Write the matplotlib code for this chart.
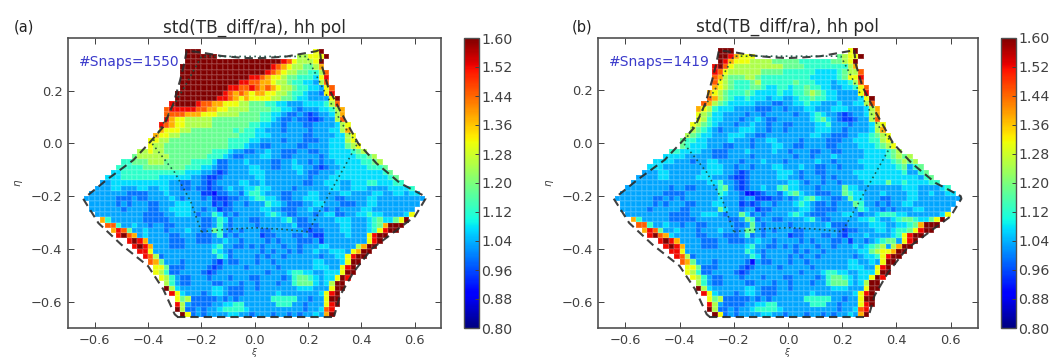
import numpy as np
import matplotlib
matplotlib.use("Agg")
import matplotlib.pyplot as plt

TITLE = "std(TB_diff/ra), hh pol"
PANEL_LABELS = ["(a)", "(b)"]
SNAPS = ["#Snaps=1550", "#Snaps=1419"]
XTICKS = [-0.6, -0.4, -0.2, 0.0, 0.2, 0.4, 0.6]
YTICKS = [-0.6, -0.4, -0.2, 0.0, 0.2]
CBAR_TICKS = [0.80, 0.88, 0.96, 1.04, 1.12, 1.20, 1.28, 1.36, 1.44, 1.52, 1.60]

# colour levels: each letter in a row is one cell
LEVEL_CODES = "abcdefghijklm"
LEVEL_VALUES = [0.91, 0.95, 0.99, 1.03, 1.075, 1.125, 1.18, 1.25, 1.31, 1.38, 1.45, 1.52, 1.60]
COMMON_LEVEL = "d"

ROW_START = [19, 19, 19, 18, 18, 18, 18, 18, 17, 17, 16, 15, 15, 15, 14, 14, 13, 12, 12, 10, 9, 7, 6, 5, 4, 3, 2, 1, 0,
             1, 1, 2, 3, 4, 5, 6, 8, 9, 10, 11, 12, 13, 13, 14, 15, 15, 16, 17, 17, 17, 18]
ROW_STOP = [45, 46, 45, 45, 46, 46, 46, 47, 47, 48, 48, 49, 49, 49, 50, 50, 51, 51, 52, 53, 55, 56, 57, 58, 59, 60, 62, 63, 64,
            63, 62, 62, 61, 60, 59, 57, 56, 55, 54, 53, 52, 51, 51, 50, 49, 49, 48, 48, 48, 47, 47]

EDGE_RIGHT = ["im", "im", "im", "hj", "hk", "il", "hk", "ik", "il", "im", "hk", "hj", "hj", "hk", "hi", "hj", "hi",
              "hi", "ghi", "gh", "gh", "gh", "fg", "fg", "fg", "ff", "ef", "ee", "dd", "", "", "ei", "gim", "jmmm",
              "ilmm", "ilmm", "ilm", "hjmm", "ijmm", "ilmm", "imm", "ilm", "imm", "iml", "hmm", "imm", "ilm", "imm",
              "ilm", "kl", "jm"]
EDGE_LEFT = [""] * 32 + ["jf", "kkf", "jlkg", "lmkj", "lmlj", "lmlj", "lli", "lkh", "kjg", "iig", "ihf", "ihf", "hf",
                         "mhe", "lie", "igh", "lh", "mh", "mi"]

# first ten rows start at the left end of the row
A_TOP = [
    "mmm.....................",
    "mmmmmm...............hhiiim",
    "mmmmmmmmmmmmmmmmmmlkihhhim",
    "mmmmmmmmmmmmmmmmmlkjihhggghh",
    "mmmmmmmmmmmmmmmmlkjihhggffffgh",
    "mmmmmmmmmmmmmllkjiihggfffeefg",
    "mmmmmmmmmmmllkkjjihhgffeeddeefg",
    "mmmmmmmmmllkklkjkjihhgffeedddeefg",
    "mmmmmmmmmlkjkjijjiihhgffeddcddef",
    "mmmmmmmmllkjijiiiihhggfeeddddeef",
]
B_TOP = [
    "mmm.....................",
    "mmljiii...............ghiiim",
    "mljiiihhhhgggggffffffgghim",
    "lmkihhhhhhhhhggggffffffffgghj",
    "lkihhhhhhggggffffffeeeefghk",
    "kjhggghhgfffffffffeeeeefgil",
    "kihgfffghffffffgfffeeedeefgik",
    "jihgfffggfeeffeffgffeeddeeffik",
    "jihgfffgfeeeefeeffghgfeeddddeffil",
    "kjhgfeefeeedeeddeffgffeeddddeefim",
]

# remaining rows are indexed by grid column; blocks of ten columns, '.' = common level
A_MID = [
    ".......... ......lmmm mlkkjjiiih hgggffeedd deeeefgg",
    ".......... .....kllll lkkjjiihhh hggggffeed cdddeefgg",
    ".......... .....kkkkj jjiiihhhhg gggffeedcc dcbcddeefg",
    ".......... .....ljiih hhhhgggggg gggffedccd ccbbcddeff",
    ".......... ....lkjiih hhhhgggggg gffeeddcdd dccddddeef",
    ".......... ....jiiihh ggggggggfg ffeedddcdd ddcdddeefg",
    ".......... ...jiihhgg gggggggggf ffeeeddddd dccddddeef g",
    ".......... ..iihhgggg gggggggfff feeddddcdd dcccddeeef g",
    ".......... ..ihhggggg gggggggfff eddccddddd ccddddeeef gg",
    ".......... hhihhggggg ggggfffedd ccddeddccc ddccddeeee fgh",
    ".........g hhhhhhgggg gggfffedcc dddeeddccd ddddcdeeee effgh",
    ".......ffg gghhhggggg ffffeccddd eddddccdde ddcdcddeee eeffgh",
    "......ffff fggggggggf ffeedccddd deeddccdde eddcbcddee eeefffg",
    ".....eefff fffffffffe eeddcbcddd deeedddddd edccdddeee eeeeeeff",
    "....eeefff ffffeeeeee ddcbbcdddd ddeedddddd ddcdddeeee eeeeeeeee",
    "...ddeeeee eeeeeeddcc ddcbcdddde eddedddddd dccddeeedd eeeffeeee",
    "..dddeeddd eeddeeddcc dccbccdedd eefeeddddc ddddddeedd eeeddddeee",
    ".dddddddcc ccdddedddd ddbbaccddc effedddccd ddeeddddee ddddeeddee",
    "ddddddcccd ccddddedcd ddcdbbbccd deffeedccd deeedddccd dddeeddddd d",
    ".dddddcdcd ddccdddeee ddddbcbcdd cdddfeedcc cddeedddcc cddeeddddd",
    ".ddddddcdd ddccddeeee ddcddbccdd dddeeddccc ddeddcdcdd ddeedddddd",
    "..dddddddd dccccddeee dcddfecdcd ddddefedcc dddcdeeccd deefeedddd",
    "...ddddddd dcccccdddd ddccdfecdd dccddddefd ccdddddeee dddefgeedd",
    "....ddddde ddcddccddd ddccdfdcdd ddcdddddde ccccddddee dddefgeee",
    ".....ddddd dedddcddde ddcdgfdcdc dddccddddd dcbccdddee dddeffe",
    "......dddd deddddccdd dcccdfcdcd dddbccdddc cdcbbdddde d",
    "........dd ddddddcccd dcccddeddc ddddcdcddd cccdbddddd",
    ".........d ddcdddcccd ddddefddcc dcdcdddcdd cdddeeddd",
    ".......... dddddddddd ddddfedcdd dddcdcddcd cddeddeee",
    ".......... ddddcddddd dddddfecdd ddcdcddcdd ddddcddeed",
    ".......... ..eeddddcd ddddcbdccd ddcddcdddd dddeeddde",
]
B_MID = [
    ".......... ......kjhg feeeeedddc cddeefeedd deddeefg",
    ".......... .....jihfe eeddddcccd dcdddeeddd eeedddeffg",
    ".......... .....ihgee ddddcddcdd dddcddefed dcbcddeefg",
    ".......... .....ihfee dddcddedcc ddddddefge dcbbcddeef",
    ".......... ....ihgfed ddcddeddcd dccddddeef dddcdddeef",
    ".......... ....hgfedc dddeeeddcd dcdddddeee ddcddddeef",
    ".......... ...hgfeedd deeeddccdd ddddddeedd cccddeefgh",
    ".......... ..gffeeddd dedddcddee ddddcddddc ccddeeeffh",
    ".......... ..gfeeeddd ccdddcddde eddccddddc cddddeeeff",
    ".......... ffeeeeddcc cdddedddde ddcdddccdd ccddddeeee f",
    ".........e eeedddddcc cddddcdddd dddcddcddd edddddeeee fgh",
    ".......eee edddcddeed dddcdddedd dcdddddedd cddddeeeee efgh",
    "......eeed dddddddeee ddcddcddde edddeddccd dcddddeeee eefg",
    ".....dddee ddddddeeee ddcbcddddd eeedcddccd ddddeeeeee eeef",
    "....ddddee dddddeeedd dcbbcddddd eeddcdddcd cddddeeeee eeeeee",
    "...ddddddd dddddddeef ddcbcddddd ddeedcddcd dcddddeeee geefeeee",
    "..dddddddd cddccddddf gdcbcddedd fgeedddcdd ddgeeddddd dddeee",
    ".ddddddddc cccddddddf eddcaabcdd cefgeddccc ddgfeeddde ddddeedde",
    "dddddddccd cdcdddddde dddcddbbbc cdcdefgedd ccdgeedddc cdddeedddd",
    ".ddddddcdc dddccdddee dddbcbcddc dddefedccd cdddgfddcd cddeeddddd",
    ".dddddcddd ddccdddddg eddcddbccd ddddeedccc cddddfeddc dcdddeeddd",
    "..dddddddd ccccddeeed cddgecdcdd ddefedcccd ddeedcddef ffeedddd",
    "...ddddddd cccccddddd dccdgfcddc cddddefdcc dddddeefed defggfeedd",
    "....ddddde ddcddccddd ddccdgdcdd ddcdddddde cccddddeee ddeefggfee",
    ".....ddddd dedddcddde ddcdggdcdc dddccddddd dcbccdddee deffgge",
    ".....ddddd eddddccddd cccdfcdcdd ddbccdddcc dcbdddeddd defgg",
    "........dd ddddddcccd dcccddeddc ddddcdcddd ccdbddcdef gg",
    ".........d ddcdddcccd ddddefddcc dcdcdddcdd cdddedefgh",
    ".......... dddddddddd ddddfedcdd dddcdcddcd dddddeeghi",
    ".......... ddddcddddd dddddfecdd ddcdcddcdd ddddcdeefh",
    ".......... ..eeddddcd ddddcadccd ddcddcdddd dddeedde",
]
LOWER_ROWS = [
    ".......... ...eddcccd dddcbcdddd cdddddcddd dddeeeddd",
    ".......... ...eddccdd ddcbcddddd ddddcdddef feeddeee",
    ".......... ....edddcc dddcdddcdd dccddddcdf ggfedee",
    ".......... .....eddcc ddddccdddc ddcdddcddf gggede",
    ".......... .....edddd ddddeedccc ddcddddddd eeedd",
    ".......... ......eddd ddcdeedccc ddddddeddd dddde",
    ".......... .......hed cccccdcdcd dddddfffff ddcdd",
    ".......... .......eed ccccddeeff ddddddfffd dcddd",
    ".......... .......edc cdcddeffff eddddddddd dcdde",
    ".......... ........ed cdcddddeed dcdddcddcd cdde",
]

# outer dashed outline and inner dotted outline
OUTER_XI = [-0.624, -0.555, -0.455, -0.397, -0.343, -0.305, -0.28, -0.265, -0.255, -0.20, -0.125, -0.05, 0.0, 0.05, 0.12, 0.231, 0.244,
            0.25, 0.275, 0.319, 0.388, 0.456, 0.544, 0.637, 0.64, 0.60, 0.53, 0.438, 0.369, 0.319, 0.298]
OUTER_ETA = [-0.195, -0.138, -0.063, 0.0, 0.063, 0.151, 0.239, 0.30, 0.352, 0.345, 0.332, 0.325, 0.323, 0.325, 0.33, 0.35, 0.356,
             0.30, 0.214, 0.126, 0.0, -0.075, -0.15, -0.20, -0.21, -0.277, -0.33, -0.40, -0.49, -0.578, -0.654]
LOWER_LEFT_XI = [-0.643, -0.586, -0.50, -0.40, -0.343, -0.30, -0.29]
LOWER_LEFT_ETA = [-0.21, -0.302, -0.384, -0.465, -0.553, -0.648, -0.657]
BOTTOM_XI = [-0.29, 0.29]
BOTTOM_ETA = [-0.657, -0.657]
INNER_XI = [-0.20, -0.24, -0.30, -0.385, -0.33, -0.26, -0.20, -0.10, 0.0, 0.10, 0.195, 0.26, 0.33, 0.385, 0.33, 0.28, 0.20, 0.10, 0.0, -0.10, -0.20]
INNER_ETA = [-0.335, -0.22, -0.11, 0.0, 0.10, 0.22, 0.33, 0.33, 0.33, 0.33, 0.33, 0.20, 0.07, 0.0, -0.10, -0.19, -0.335, -0.325, -0.32, -0.325, -0.335]

AX_POS = [(68, 441.5, 38, 328), (598.3, 977.7, 37.7, 328)]
CB_POS = [(464, 478.7, 38, 328), (1001, 1015.7, 37.7, 328)]
LABEL_X = [14, 572]
W, H = 1050, 359
GREY = "#404040"

plt.rcParams["font.family"] = "DejaVu Sans"
plt.rcParams["mathtext.fontset"] = "dejavusans"
lookup = dict(zip(LEVEL_CODES, LEVEL_VALUES))


def build(top, mid):
    rows = top + mid + LOWER_ROWS
    grid = np.full((len(rows), 64), np.nan)
    for j, row in enumerate(rows):
        start, stop = ROW_START[j], ROW_STOP[j]
        width = stop - start
        if j < len(top):
            text = row[:width].ljust(width, row[-1])
        else:
            full = row.replace(" ", "").ljust(64, ".")
            text = full[start:stop].replace(".", COMMON_LEVEL)
        left, right = EDGE_LEFT[j], EDGE_RIGHT[j]
        text = left + text[len(left):width - len(right)] + right
        for k, ch in enumerate(text):
            if ch in lookup:
                grid[j, start + k] = lookup[ch]
    return np.ma.masked_invalid(grid)


def frac(pos):
    l, r, t, b = pos
    return [l / W, 1 - b / H, (r - l) / W, (b - t) / H]


fig = plt.figure(figsize=(W / 100, H / 100), dpi=100)
xe = np.linspace(-0.64, 0.64, 65)
ye = np.linspace(0.36, -0.66, 52)

for n, (top, mid) in enumerate([(A_TOP, A_MID), (B_TOP, B_MID)]):
    ax = fig.add_axes(frac(AX_POS[n]))
    mesh = ax.pcolormesh(xe, ye, build(top, mid), cmap="jet", vmin=0.8, vmax=1.6,
                         edgecolors=(1, 1, 1, 0.10), linewidth=0.3)
    dash = dict(color="#2b2b2b", lw=1.5, dashes=(4, 2.4), alpha=0.9)
    ax.plot(OUTER_XI, OUTER_ETA, **dash)
    ax.plot(LOWER_LEFT_XI, LOWER_LEFT_ETA, **dash)
    ax.plot(BOTTOM_XI, BOTTOM_ETA, **dash)
    ax.plot(INNER_XI, INNER_ETA, color="#155040", lw=1.2, dashes=(1, 2), alpha=0.9)
    ax.set_xlim(-0.7, 0.7)
    ax.set_ylim(-0.7, 0.4)
    ax.set_xticks(XTICKS)
    ax.set_yticks(YTICKS)
    ax.tick_params(direction="in", length=4, width=0.7, colors=GREY, labelsize=9.4, top=True, right=True, pad=4)
    for s in ax.spines.values():
        s.set_color("#505050")
        s.set_linewidth(1.2)
    ax.set_title(TITLE, fontsize=12.2, color="#2a2a2a", pad=4)
    ax.set_xlabel(r"$\xi$", fontsize=6.5, color=GREY, labelpad=-0.5)
    ax.set_ylabel(r"$\eta$", fontsize=7.5, color=GREY, labelpad=4)
    ax.text(0.028, 0.917, SNAPS[n], transform=ax.transAxes, color="#3a3acb", fontsize=10, va="center")
    fig.text(LABEL_X[n] / W, 1 - 27 / H, PANEL_LABELS[n], fontsize=10.5, color="#222222", va="center")

    cax = fig.add_axes(frac(CB_POS[n]))
    cb = fig.colorbar(mesh, cax=cax, ticks=CBAR_TICKS, format="%.2f")
    cb.ax.tick_params(direction="in", length=3, width=0.7, colors=GREY, labelsize=10.2, pad=2)
    cb.outline.set_edgecolor("#505050")
    cb.outline.set_linewidth(1.0)

fig.savefig("out.png", dpi=100)
